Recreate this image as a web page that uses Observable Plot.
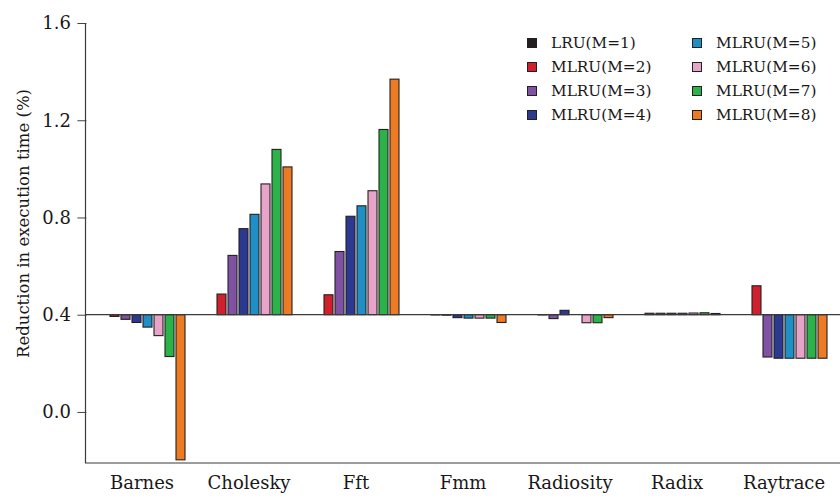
<!DOCTYPE html>
<html>
<head>
<meta charset="utf-8">
<script src="https://cdn.jsdelivr.net/npm/d3@7"></script>
<script src="https://cdn.jsdelivr.net/npm/@observablehq/plot@0.6"></script>
<style>
  html, body { margin: 0; padding: 0; background: #fff; }
  #wrap { position: relative; width: 840px; height: 496px; }
  #legend {
    position: absolute; left: 527px; top: 31px;
    display: grid; grid-template-rows: repeat(4, 24px); grid-auto-flow: column;
    grid-auto-columns: 165px;
    font-family: "DejaVu Serif", serif; font-size: 15.3px; color: #1a1718;
  }
  #legend .item { display: flex; align-items: center; }
  #legend .sw { width: 10px; height: 10px; box-sizing: border-box; border: 1px solid #231f20; margin-right: 14px; }
</style>
</head>
<body>
<div id="wrap"><div id="legend"></div></div>
<script>
const groups = ["Barnes", "Cholesky", "Fft", "Fmm", "Radiosity", "Radix", "Raytrace"];
const seriesNames = ["LRU(M=1)", "MLRU(M=2)", "MLRU(M=3)", "MLRU(M=4)", "MLRU(M=5)", "MLRU(M=6)", "MLRU(M=7)", "MLRU(M=8)"];
const seriesColors = ["#231f20", "#d0202e", "#7f52a3", "#2b3990", "#1f8fc6", "#e8a3c9", "#2bb34a", "#ec7b24"];
const yTicks = [0.0, 0.4, 0.8, 1.2, 1.6];
const baseline = 0.4;

const lru1  = [0.400, 0.400, 0.400, 0.400, 0.400, 0.400, 0.400];
const mlru2 = [0.393, 0.485, 0.482, 0.399, 0.399, 0.406, 0.519];
const mlru3 = [0.381, 0.644, 0.660, 0.398, 0.384, 0.406, 0.226];
const mlru4 = [0.368, 0.754, 0.805, 0.388, 0.418, 0.406, 0.221];
const mlru5 = [0.349, 0.813, 0.848, 0.386, 0.400, 0.406, 0.221];
const mlru6 = [0.314, 0.938, 0.910, 0.386, 0.367, 0.407, 0.221];
const mlru7 = [0.228, 1.080, 1.162, 0.386, 0.367, 0.408, 0.221];
const mlru8 = [-0.197, 1.008, 1.369, 0.368, 0.388, 0.405, 0.221];
const seriesValues = [lru1, mlru2, mlru3, mlru4, mlru5, mlru6, mlru7, mlru8];

const data = [];
groups.forEach((g, gi) => seriesNames.forEach((s, si) => data.push({group: g, series: s, value: seriesValues[si][gi]})));

const W = 840, H = 496, ML = 85, MR = 0, MT = 23, MB = 33;
const fxPadIn = 0.13, fxPadOut = 0.08;
const fxStep = (W - ML - MR) / (groups.length - fxPadIn + 2 * fxPadOut);
const axisShift = fxStep * fxPadOut;

const ink = "#1a1718";
const plot = Plot.plot({
  width: W, height: H,
  marginLeft: ML, marginRight: MR, marginTop: MT, marginBottom: MB,
  style: {fontFamily: "DejaVu Serif, serif", fontSize: "18px", color: ink, background: "#fff", overflow: "visible"},
  fx: {domain: groups, paddingInner: fxPadIn, paddingOuter: fxPadOut, label: null},
  x: {domain: seriesNames, paddingInner: 0.19, paddingOuter: 0.095, axis: null},
  y: {domain: [-0.21, 1.6], label: null},
  color: {domain: seriesNames, range: seriesColors},
  marks: [
    Plot.barY(data, {fx: "group", x: "series", y1: () => baseline, y2: "value", fill: "series", stroke: "#231f20", strokeWidth: 1.1}),
    Plot.axisY({ticks: yTicks, tickFormat: d3.format(".1f"), tickSize: 9, tickPadding: 7, dx: -axisShift, label: null, stroke: "#444", fill: ink, fontSize: 18}),
    Plot.axisFx({anchor: "bottom", tickSize: 0, tickPadding: 13, label: null, fill: ink, fontSize: 18}),
    Plot.text(["Reduction in execution time (%)"], {fx: () => groups[0], frameAnchor: "left", textAnchor: "middle", rotate: -90, dx: -axisShift - 63, dy: -20, fontSize: 16.5, fill: ink})
  ]
});

// axis domain lines & baseline spanning the full frame, placed with Plot's y scale
const ys = plot.scale("y");
const svg = d3.select(plot);
const lineG = svg.append("g").attr("stroke", "#3a3a3a").attr("stroke-width", 1.2);
const yTop = ys.apply(ys.domain[1]), yBot = ys.apply(ys.domain[0]), yBase = ys.apply(baseline);
lineG.append("line").attr("x1", ML + 0.5).attr("x2", ML + 0.5).attr("y1", yTop).attr("y2", yBot);
lineG.append("line").attr("x1", ML).attr("x2", W - MR).attr("y1", yBot).attr("y2", yBot);
lineG.append("line").attr("x1", ML).attr("x2", W - MR).attr("y1", yBase).attr("y2", yBase);

document.getElementById("wrap").prepend(plot);

const legend = d3.select("#legend");
seriesNames.forEach((s, i) => {
  const item = legend.append("div").attr("class", "item");
  item.append("div").attr("class", "sw").style("background", seriesColors[i]);
  item.append("span").text(s);
});
</script>
</body>
</html>
